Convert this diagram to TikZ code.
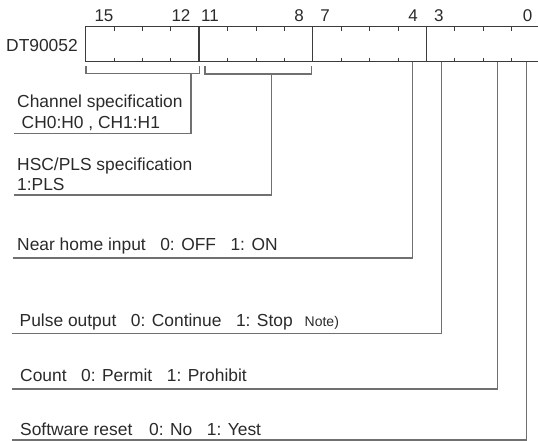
\documentclass[tikz,border=0pt]{standalone}
\usepackage{fontspec}
\setmainfont{Liberation Sans}
\definecolor{txt}{HTML}{2A2A2A}
\definecolor{boxc}{HTML}{3C3C3C}
\definecolor{connc}{HTML}{707070}
\begin{document}
\begin{tikzpicture}[x=1pt,y=-1pt,
  lbl/.style={anchor=base west, inner sep=0pt, font=\fontsize{17.4}{20}\selectfont, text=txt},
  bitnum/.style={anchor=base, inner sep=0pt, font=\fontsize{17}{20}\selectfont, text=txt},
  boxline/.style={draw=boxc, line width=1.4pt},
  tickline/.style={draw=boxc, line width=0.8pt},
  conn/.style={draw=connc, line width=1.2pt},
  note/.style={anchor=base west, inner sep=0pt, font=\fontsize{14}{16}\selectfont, text=txt}]
\useasboundingbox (0,0) rectangle (538,441);
\newcommand{\gp}{\hspace{14.5pt}}
% register box
\draw[boxline] (85.5,26.7) rectangle (541,61.7);
\foreach \i in {4,8,12} \draw[boxline] (85.5+28.4*\i,26.7) -- ++(0,35);
\foreach \i in {1,2,3,5,6,7,9,10,11,13,14,15} {
  \draw[tickline] (85.5+28.4*\i,26.7) -- ++(0,4);
  \draw[tickline] (85.5+28.4*\i,61.7) -- ++(0,-4);
}
% bit numbers
\node[bitnum] (n15) at (104,21.7) {15};
\node[bitnum] (n12) at (181,21.7) {12};
\node[bitnum] (n11) at (210,21.7) {11};
\node[bitnum] (n8) at (299,21.7) {8};
\node[bitnum] (n7) at (325,21.7) {7};
\node[bitnum] (n4) at (413,21.7) {4};
\node[bitnum] (n3) at (438.8,21.7) {3};
\node[bitnum] (n0) at (527.5,21.7) {0};
\node[lbl] (dt) at (6,51.5) {DT90052};
% brackets
\coordinate (b1) at (191,73.5);
\coordinate (b2) at (271.7,74);
\draw[conn] (86,66) -- (86,73.5) -- (199.3,73.5) -- (199.3,66);
\draw[conn] (205,66) -- (205,74) -- (311.7,74) -- (311.7,66);
% bit taps
\coordinate (t4) at (412.7,61.7);
\coordinate (t3) at (441.7,61.7);
\coordinate (t1) at (497.5,61.7);
\coordinate (t0) at (526.5,61.7);
% texts
\node[lbl] (ch1) at (17,108) {Channel specification};
\node[lbl] (ch2) at (21.5,128.3) {CH0:H0 , CH1:H1};
\node[lbl] (hs1) at (17,170) {HSC/PLS specification};
\node[lbl] (hs2) at (17,190) {1:PLS};
\node[lbl] (nh) at (17,250) {Near home input\gp 0: OFF\gp 1: ON};
\node[lbl] (po) at (19.5,326.7) {Pulse output\gp 0: Continue\gp 1: Stop};
\node[note] (nt) at (304.5,326.7) {Note)};
\node[lbl] (ct) at (20,381.7) {Count\gp 0: Permit\gp 1: Prohibit};
\node[lbl] (sr) at (20,435) {Software reset\hspace{12pt} 0: No\gp 1: Yest};
% underline starts
\coordinate (uch) at (14,133.3);
\coordinate (uhs) at (14,195);
\coordinate (unh) at (12.5,258);
\coordinate (upo) at (12.3,333.3);
\coordinate (uct) at (12.3,389);
\coordinate (usr) at (12,440);
\draw[conn] (uch) -| (b1);
\draw[conn] (uhs) -| (b2);
\draw[conn] (unh) -| (t4);
\draw[conn] (upo) -| (t3);
\draw[conn] (uct) -| (t1);
\draw[conn] (usr) -| (t0);
\end{tikzpicture}
\end{document}
